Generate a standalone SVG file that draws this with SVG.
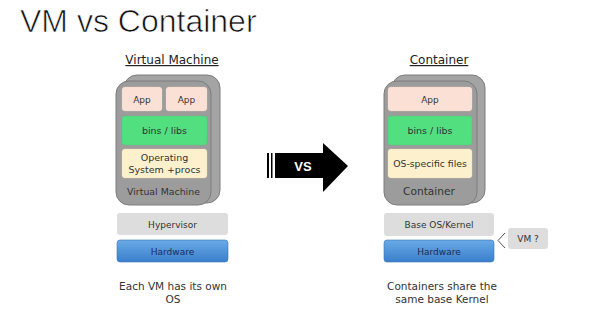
<svg xmlns="http://www.w3.org/2000/svg" width="590" height="324" viewBox="0 0 590 324">
<defs>
<linearGradient id="hw" x1="0" y1="0" x2="0" y2="1">
<stop offset="0" stop-color="#6aaae6"/>
<stop offset="1" stop-color="#3a7fcc"/>
</linearGradient>
<style>
.t{font-family:"DejaVu Sans",Verdana,sans-serif;fill:#333;text-anchor:middle}
.card{fill:#9c9c9c;stroke:#7c7c7c;stroke-width:1}
.back{fill:#a4a4a4;stroke:#7c7c7c;stroke-width:1}
.app{fill:#fbe1d5;stroke:#f0d0c0;stroke-width:0.6;stroke-dasharray:1 1}
.bins{fill:#52df80;stroke:#44c870;stroke-width:0.6;stroke-dasharray:1 1}
.os{fill:#fdf0cd;stroke:#ecdcb0;stroke-width:0.6;stroke-dasharray:1 1}
.grey{fill:#dddddd}
.hw{fill:url(#hw);stroke:#3a76b8;stroke-width:0.6}
</style>
</defs>
<rect width="590" height="324" fill="#fff"/>
<text x="20" y="32" font-family="Liberation Sans,Arial,sans-serif" font-size="32" fill="#111" stroke="#fff" stroke-width="0.7">VM vs Container</text>

<g id="vm">
<text class="t" x="172" y="64" font-size="12" text-decoration="underline" style="fill:#222">Virtual Machine</text>
<rect class="back" x="124" y="75" width="96" height="128" rx="13"/>
<rect class="card" x="116" y="81" width="95" height="124" rx="13"/>
<rect class="app" x="122" y="87" width="40" height="24" rx="3"/>
<text class="t" x="142" y="102.5" font-size="9">App</text>
<rect class="app" x="166" y="87" width="41" height="24" rx="3"/>
<text class="t" x="186.5" y="102.5" font-size="9">App</text>
<rect class="bins" x="122" y="116" width="85" height="29" rx="3"/>
<text class="t" x="164.5" y="134" font-size="9.5">bins / libs</text>
<rect class="os" x="122" y="149" width="85" height="29" rx="3"/>
<text class="t" x="164.5" y="161" font-size="9.5">Operating</text>
<text class="t" x="164.5" y="173" font-size="9.5">System +procs</text>
<text class="t" x="163.5" y="195" font-size="9.4">Virtual Machine</text>
</g>

<g id="hypervisor">
<rect class="grey" x="117" y="213" width="111" height="22" rx="3"/>
<text class="t" x="172.5" y="227.5" font-size="9">Hypervisor</text>
</g>
<g id="hardware-left">
<rect class="hw" x="117" y="240" width="111" height="22" rx="3"/>
<text class="t" x="172.5" y="254.5" font-size="9" style="fill:#1c2c55">Hardware</text>
</g>
<g id="caption-left">
<text class="t" x="173" y="290" font-size="10.5">Each VM has its own</text>
<text class="t" x="173" y="303" font-size="10.5">OS</text>
</g>

<g id="vs-arrow">
<rect x="267" y="153" width="2" height="25" fill="#000"/>
<rect x="271" y="153" width="1.5" height="25" fill="#000"/>
<polygon points="275,153 323,153 323,143 348,166 323,192 323,178 275,178" fill="#000"/>
<text x="303" y="171" font-family="Liberation Sans,Arial,sans-serif" font-size="13" font-weight="bold" fill="#fff" text-anchor="middle">VS</text>
</g>

<g id="container">
<text class="t" x="439" y="64" font-size="12" text-decoration="underline" style="fill:#222">Container</text>
<rect class="back" x="392" y="75" width="93" height="128" rx="13"/>
<rect class="card" x="384" y="81" width="93" height="124" rx="13"/>
<rect class="app" x="388" y="87" width="84" height="24" rx="3"/>
<text class="t" x="430" y="102.5" font-size="9">App</text>
<rect class="bins" x="388" y="116" width="84" height="29" rx="3"/>
<text class="t" x="430" y="134" font-size="9.5">bins / libs</text>
<rect class="os" x="388" y="149" width="84" height="29" rx="3"/>
<text class="t" x="430" y="167" font-size="9.3">OS-specific files</text>
<text class="t" x="429" y="195" font-size="10.6">Container</text>
</g>

<g id="base-os">
<rect class="grey" x="384" y="213" width="110" height="23" rx="3"/>
<text class="t" x="439" y="228" font-size="9">Base OS/Kernel</text>
</g>
<g id="hardware-right">
<rect class="hw" x="384" y="240" width="110" height="22" rx="3"/>
<text class="t" x="439" y="254.5" font-size="9" style="fill:#1c2c55">Hardware</text>
</g>
<g id="vm-question">
<rect class="grey" x="508" y="228" width="40" height="21" rx="3"/>
<text class="t" x="528" y="242" font-size="9">VM ?</text>
</g>
<g id="connectors">
<polyline points="505,233 498,240.5 505,248" fill="none" stroke="#555" stroke-width="1"/>
</g>
<g id="caption-right">
<text class="t" x="442" y="290" font-size="10.5">Containers share the</text>
<text class="t" x="442" y="303" font-size="10.5">same base Kernel</text>
</g>
</svg>
